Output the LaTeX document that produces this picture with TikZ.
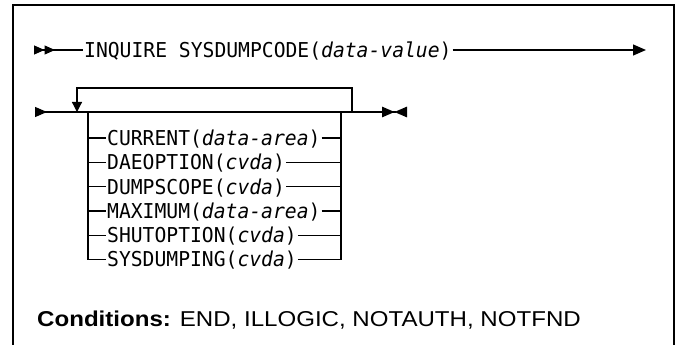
\documentclass[tikz,border=0pt]{standalone}
\usepackage{fontspec}
\setmainfont{Liberation Sans}
\newfontfamily\railmono{DejaVu Sans Mono}[FakeStretch=0.96]
\newfontfamily\condfont{Liberation Sans}[FakeStretch=1.12]
\usetikzlibrary{arrows.meta, positioning, calc}

\tikzset{
  rail/.style={line width=1.2pt},
  kwbox/.style={font=\railmono\fontsize{20.5}{21}\selectfont, inner xsep=1pt,
    inner ysep=0pt, text height=14.9pt, text depth=0pt, anchor=west},
}

\begin{document}
\begin{tikzpicture}[x=1pt,y=-1pt]
  \useasboundingbox (0,0) rectangle (678,345);
  % frame, open at the bottom
  \draw[line width=1.3pt] (13,345) |- (674,5) -- (674,345);

  % first line
  \coordinate (start1) at (34,50);
  \coordinate (end1) at (646,50);
  \node[kwbox] (inquire) at (83,50) {INQUIRE SYSDUMPCODE(\textit{data-value})};
  \draw[rail,{Triangle[length=10.5pt,width=9pt,reversed,sep=0pt]Triangle[length=10.5pt,width=9pt,reversed]}-]
    (start1) -- (inquire.west);
  \draw[rail,-{Triangle[length=13pt,width=11pt]}] (inquire.east) -- (end1);

  % second line with the repeat loop
  \coordinate (start2) at (35,112);
  \coordinate (end2) at (407,112);
  \coordinate (loopin) at (77,112);
  \coordinate (loopout) at (352,112);
  \coordinate (brleft) at (88,112);
  \coordinate (brright) at (341,112);
  \draw[rail,{Triangle[length=12pt,width=10pt,reversed]}-{Triangle[length=12.5pt,width=10.5pt,sep=0pt]Triangle[length=12.5pt,width=10.5pt,reversed]}]
    (start2) -- (end2);
  \draw[rail,-{Triangle[length=10pt,width=10pt]}] (loopout) -- ++(0,-24) -| (loopin);

  % options
  \foreach \name/\txt [count=\i from 0] in {
      current/CURRENT(\textit{data-area}),
      daeopt/DAEOPTION(\textit{cvda}),
      dumpscope/DUMPSCOPE(\textit{cvda}),
      maximum/MAXIMUM(\textit{data-area}),
      shutopt/SHUTOPTION(\textit{cvda}),
      sysdumping/SYSDUMPING(\textit{cvda})} {
    \node[kwbox] (\name) at (106,138+24.3*\i) {\txt};
    \draw[rail] (brleft) |- (\name.west);
    \draw[rail] (\name.east) -| (brright);
  }

  % conditions
  \node[font=\condfont\fontsize{21.5}{24}\selectfont, anchor=base west, inner sep=0pt] (conds)
    at (37,326) {\textbf{Conditions:} END, ILLOGIC, NOTAUTH, NOTFND};
\end{tikzpicture}
\end{document}
